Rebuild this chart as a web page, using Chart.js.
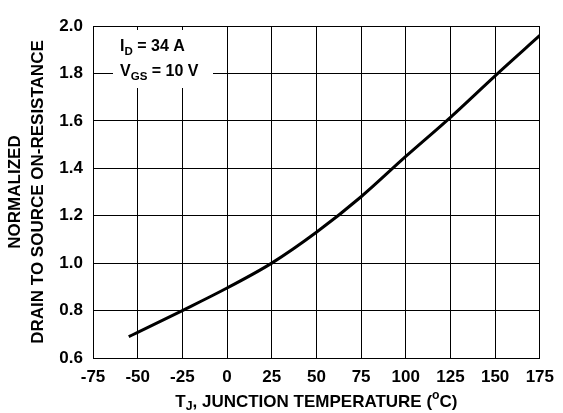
<!DOCTYPE html>
<html>
<head>
<meta charset="utf-8">
<script src="https://cdn.jsdelivr.net/npm/chart.js@4.4.1/dist/chart.umd.min.js"></script>
<style>
    html, body { margin: 0; padding: 0; background: #fff; }
    #wrap { width: 563px; height: 413px; }
</style>
</head>
<body>
<div id="wrap"><canvas id="rdsChart"></canvas></div>
<script>
// Tj (degC) vs normalized Rds(on)
const tempC = [-55, -50, -25, 0, 25, 50, 75, 100, 125, 150, 175];
const rdsNorm = [0.69, 0.708, 0.80, 0.895, 1.0, 1.13, 1.28, 1.45, 1.615, 1.79, 1.96];
const xTicks = [-75, -50, -25, 0, 25, 50, 75, 100, 125, 150, 175];
const yTicks = [0.6, 0.8, 1.0, 1.2, 1.4, 1.6, 1.8, 2.0];

const FONT = '"Liberation Sans", Arial, sans-serif';

// draws text pieces with subscripts / superscripts
function drawRich(ctx, parts, x, y, size) {
    let cx = x;
    parts.forEach(p => {
        const s = p.sub || p.sup ? size * 0.72 : size;
        ctx.font = 'bold ' + s + 'px ' + FONT;
        const dy = p.sub ? size * 0.3 : (p.sup ? -size * 0.38 : 0);
        ctx.fillText(p.t, cx, y + dy);
        cx += ctx.measureText(p.t).width;
    });
    return cx - x;
}

function richWidth(ctx, parts, size) {
    let w = 0;
    parts.forEach(p => {
        const s = p.sub || p.sup ? size * 0.72 : size;
        ctx.font = 'bold ' + s + 'px ' + FONT;
        w += ctx.measureText(p.t).width;
    });
    return w;
}

const extras = {
    id: 'extras',
    afterDatasetsDraw(chart) {
        const ctx = chart.ctx;
        const a = chart.chartArea;
        ctx.save();
        // condition box over the grid
        ctx.fillStyle = '#fff';
        ctx.fillRect(a.left + 20, a.top + 4, 100, 58);
        ctx.fillStyle = '#000';
        ctx.textBaseline = 'middle';
        ctx.textAlign = 'left';
        drawRich(ctx, [{t: 'I'}, {t: 'D', sub: true}, {t: ' = 34 A'}], a.left + 27, a.top + 21, 16);
        drawRich(ctx, [{t: 'V'}, {t: 'GS', sub: true}, {t: ' = 10 V'}], a.left + 27, a.top + 46, 16);

        // x axis title
        const title = [{t: 'T'}, {t: 'J', sub: true}, {t: ', JUNCTION TEMPERATURE ('}, {t: 'o', sup: true}, {t: 'C)'}];
        const w = richWidth(ctx, title, 17);
        drawRich(ctx, title, (a.left + a.right) / 2 - w / 2, 402, 17);
        ctx.restore();
    }
};

const ctx = document.getElementById('rdsChart').getContext('2d');
new Chart(ctx, {
    type: 'line',
    data: {
        datasets: [{
            data: tempC.map((t, i) => ({x: t, y: rdsNorm[i]})),
            borderColor: '#000',
            borderWidth: 3,
            pointRadius: 0,
            cubicInterpolationMode: 'monotone',
            fill: false
        }]
    },
    options: {
        responsive: true,
        maintainAspectRatio: false,
        animation: false,
        layout: { padding: { top: 26, right: 17, left: 0, bottom: 0 } },
        plugins: { legend: { display: false }, tooltip: { enabled: false } },
        scales: {
            x: {
                type: 'linear',
                min: -75,
                max: 175,
                afterBuildTicks: axis => { axis.ticks = xTicks.map(v => ({value: v})); },
                afterFit: axis => { axis.height = 413 - 358; },
                grid: { color: '#000', lineWidth: 1, drawTicks: false },
                border: { color: '#000', width: 1 },
                ticks: {
                    color: '#000',
                    padding: 9,
                    maxRotation: 0,
                    font: { family: FONT, size: 17, weight: 'bold' }
                }
            },
            y: {
                min: 0.6,
                max: 2.0,
                afterBuildTicks: axis => { axis.ticks = yTicks.map(v => ({value: v})); },
                afterFit: axis => { axis.width = 93; },
                grid: { color: '#000', lineWidth: 1, drawTicks: false },
                border: { color: '#000', width: 1 },
                ticks: {
                    color: '#000',
                    padding: 10,
                    font: { family: FONT, size: 17, weight: 'bold' },
                    callback: v => v.toFixed(1)
                },
                title: {
                    display: true,
                    text: ['NORMALIZED', 'DRAIN TO SOURCE ON-RESISTANCE'],
                    color: '#000',
                    padding: { top: 3, bottom: 0 },
                    font: { family: FONT, size: 17, weight: 'bold', lineHeight: 1.4 }
                }
            }
        }
    },
    plugins: [extras]
});
</script>
</body>
</html>
